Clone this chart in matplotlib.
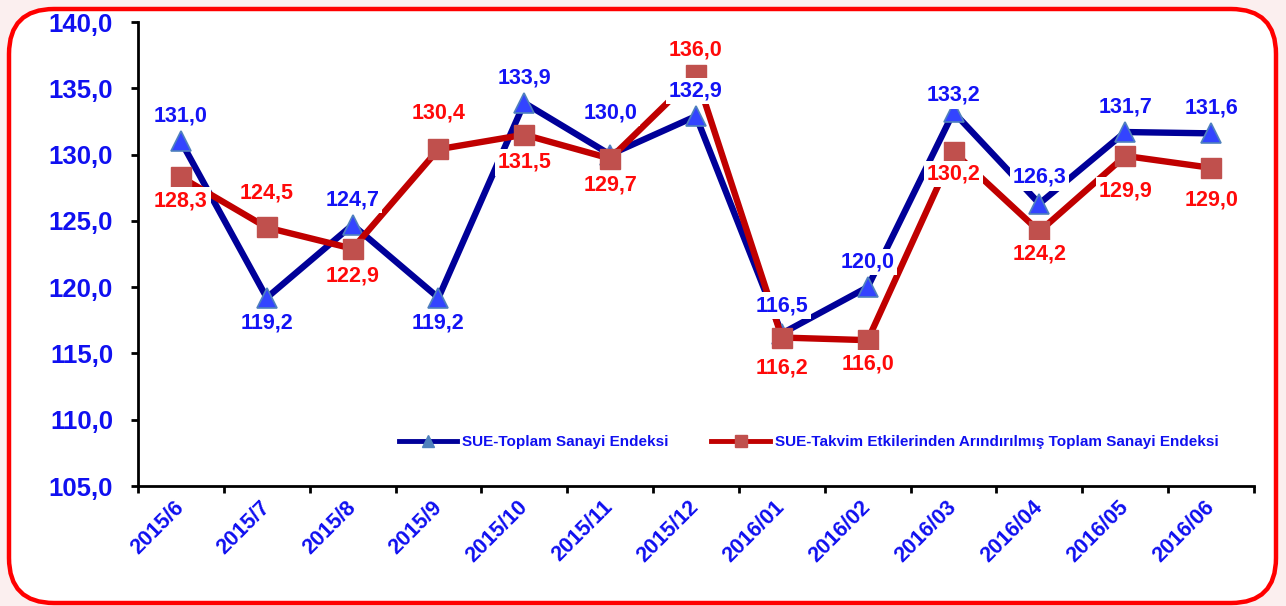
"""SUE industrial production index vs calendar-adjusted index, 2015/6 - 2016/06."""

import matplotlib.pyplot as plt
from matplotlib.lines import Line2D
from matplotlib.patches import FancyBboxPatch
from matplotlib.ticker import FixedLocator, FuncFormatter

MONTHS = [
    "2015/6", "2015/7", "2015/8", "2015/9", "2015/10", "2015/11", "2015/12",
    "2016/01", "2016/02", "2016/03", "2016/04", "2016/05", "2016/06",
]
TOTAL = [131.0, 119.2, 124.7, 119.2, 133.9, 130.0, 132.9,
         116.5, 120.0, 133.2, 126.3, 131.7, 131.6]
ADJUSTED = [128.3, 124.5, 122.9, 130.4, 131.5, 129.7, 136.0,
            116.2, 116.0, 130.2, 124.2, 129.9, 129.0]

TOTAL_NAME = "SUE-Toplam Sanayi Endeksi"
ADJUSTED_NAME = "SUE-Takvim Etkilerinden Arındırılmış Toplam Sanayi Endeksi"

# label offsets in points (positive = above the point)
TOTAL_DY = [18, -18, 18, -18, 18, 30, 18, 20, 18, 12, 19, 18, 18]
ADJUSTED_DY = [-17, 25, -20, 26, -20, -19, 18, -22, -17, -16, -16, -25, -23]

BLUE = "#000099"
RED = "#C00000"
LABEL_BLUE = "#1414F5"
LABEL_RED = "#FF0A0A"

plt.rcParams["font.family"] = ["Liberation Sans", "DejaVu Sans"]
plt.rcParams["font.weight"] = "bold"

fig = plt.figure(figsize=(12.86, 6.06), dpi=100)
fig.patch.set_facecolor("#FBEFEF")
frame = FancyBboxPatch(
    (9 / 1286, 3 / 606), 1267 / 1286, 594 / 606,
    boxstyle="round,pad=0,rounding_size=0.035",
    transform=fig.transFigure, facecolor="white", edgecolor="#FF0000",
    linewidth=3.2, mutation_aspect=1286 / 606, zorder=-1,
)
fig.patches.append(frame)

ax = fig.add_axes([138 / 1286, 120 / 606, 1116 / 1286, 464 / 606])
ax.set_facecolor("none")
x = list(range(len(MONTHS)))

ax.plot(x, TOTAL, color=BLUE, linewidth=4.6, marker="^", markersize=14,
        markerfacecolor="#3344FF", markeredgecolor="#4F81BD", markeredgewidth=1.2,
        zorder=3)
ax.plot(x, ADJUSTED, color=RED, linewidth=4.6, marker="s", markersize=14,
        markerfacecolor="#C0504D", markeredgecolor="#C0504D", zorder=4)

box = dict(facecolor="white", edgecolor="none", pad=2.0)
for xi, v, dy in zip(x, TOTAL, TOTAL_DY):
    ax.annotate(f"{v:.1f}".replace(".", ","), (xi, v), xytext=(0, dy),
                textcoords="offset points", ha="center", va="center",
                fontsize=15.5, fontweight="bold", color=LABEL_BLUE, bbox=box, zorder=6)
for xi, v, dy in zip(x, ADJUSTED, ADJUSTED_DY):
    ax.annotate(f"{v:.1f}".replace(".", ","), (xi, v), xytext=(0, dy),
                textcoords="offset points", ha="center", va="center",
                fontsize=15.5, fontweight="bold", color=LABEL_RED, bbox=box, zorder=6)

ax.set_xlim(-0.5, len(MONTHS) - 0.5)
ax.set_ylim(105, 140)
ax.set_yticks([105, 110, 115, 120, 125, 130, 135, 140])
ax.yaxis.set_major_formatter(FuncFormatter(lambda v, _: f"{v:.1f}".replace(".", ",")))
ax.tick_params(axis="y", length=5, width=2, pad=13, labelsize=18.5,
               labelcolor="#1010F0", direction="out")

ax.xaxis.set_major_locator(FixedLocator([i - 0.5 for i in range(len(MONTHS) + 1)]))
ax.xaxis.set_minor_locator(FixedLocator(x))
ax.set_xticklabels([], minor=False)
ax.set_xticklabels(MONTHS, minor=True)
ax.tick_params(axis="x", which="major", length=5, width=2, direction="out")
ax.tick_params(axis="x", which="minor", length=0, pad=13, labelsize=15.5,
               labelcolor="#1010F0")
for lbl in ax.get_xticklabels(minor=True):
    lbl.set_rotation(45)
    lbl.set_rotation_mode("anchor")
    lbl.set_ha("right")
    lbl.set_va("center")
    lbl.set_fontweight("bold")
for lbl in ax.get_yticklabels():
    lbl.set_fontweight("bold")

for side in ("top", "right"):
    ax.spines[side].set_visible(False)
for side in ("left", "bottom"):
    ax.spines[side].set_linewidth(2)

handles = [
    Line2D([], [], color=BLUE, linewidth=3.5, marker="^", markersize=8,
           markerfacecolor="#4F81BD", markeredgecolor="#4F81BD"),
    Line2D([], [], color=RED, linewidth=3.5, marker="s", markersize=9,
           markerfacecolor="#C0504D", markeredgecolor="#C0504D"),
]
leg = ax.legend(handles, [TOTAL_NAME, ADJUSTED_NAME], loc="center",
                bbox_to_anchor=(0.601, 0.095), ncol=2, frameon=False,
                fontsize=11, handlelength=3.8, handletextpad=0.35,
                columnspacing=2.8)
for t in leg.get_texts():
    t.set_color("#1010F0")
    t.set_fontweight("bold")

fig.savefig("out.png", dpi=100, facecolor=fig.get_facecolor())
